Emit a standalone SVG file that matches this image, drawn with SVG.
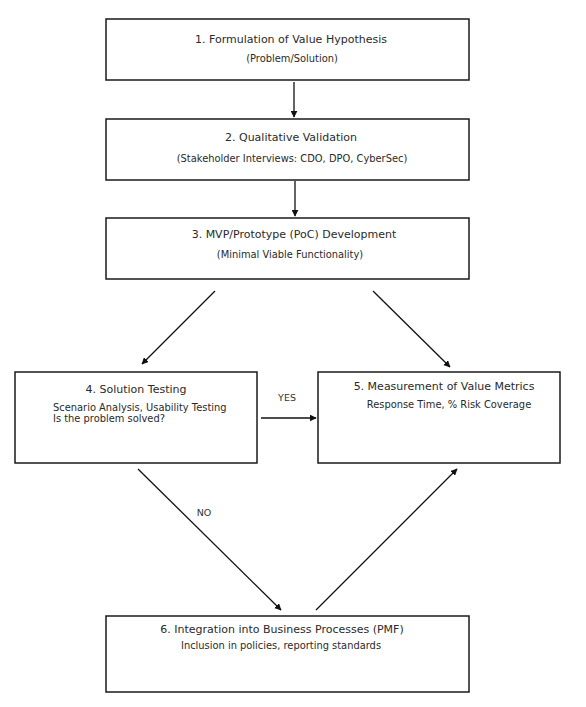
<svg xmlns="http://www.w3.org/2000/svg" width="586" height="707" viewBox="0 0 586 707">
<style>
.box{fill:#fff;stroke:#1a1a1a;stroke-width:1.5}
.t{font-family:"DejaVu Sans",sans-serif;font-size:11px;fill:#2a2a2a;text-anchor:middle}
.s{font-family:"DejaVu Sans",sans-serif;font-size:9.9px;fill:#2a2a2a;text-anchor:middle}
.sl{font-family:"DejaVu Sans",sans-serif;font-size:9.9px;fill:#2a2a2a}
.lbl{font-family:"DejaVu Sans",sans-serif;font-size:9.5px;fill:#333;text-anchor:middle}
.c{stroke:#111;stroke-width:1.3;fill:none;marker-end:url(#ah)}
</style>
<defs>
<marker id="ah" viewBox="0 0 10 10" refX="9" refY="5" markerWidth="7" markerHeight="7" markerUnits="userSpaceOnUse" orient="auto">
<path d="M0,0 L10,5 L0,10 Z" fill="#111"/>
</marker>
</defs>
<rect width="586" height="707" fill="#fff"/>
<g id="connectors">
<line class="c" x1="294" y1="82" x2="294" y2="117"/>
<line class="c" x1="295" y1="181" x2="295" y2="216"/>
<line class="c" x1="215" y1="291" x2="142" y2="364"/>
<line class="c" x1="373" y1="291" x2="450" y2="367"/>
<line class="c" x1="261" y1="418" x2="316" y2="418"/>
<text class="lbl" x="287" y="401">YES</text>
<line class="c" x1="138" y1="469" x2="281" y2="610"/>
<text class="lbl" x="204" y="516">NO</text>
<line class="c" x1="316" y1="610" x2="457" y2="469"/>
</g>
<g id="n1">
<rect class="box" x="106" y="19" width="363" height="61"/>
<text class="t" x="291" y="43">1. Formulation of Value Hypothesis</text>
<text class="s" x="292" y="62">(Problem/Solution)</text>
</g>
<g id="n2">
<rect class="box" x="106" y="119" width="363" height="61"/>
<text class="t" x="291" y="141">2. Qualitative Validation</text>
<text class="s" x="292" y="162">(Stakeholder Interviews: CDO, DPO, CyberSec)</text>
</g>
<g id="n3">
<rect class="box" x="106" y="218" width="363" height="61"/>
<text class="t" x="294" y="238">3. MVP/Prototype (PoC) Development</text>
<text class="s" x="290" y="258">(Minimal Viable Functionality)</text>
</g>
<g id="n4">
<rect class="box" x="15" y="372" width="242" height="91"/>
<text class="t" x="136" y="393">4. Solution Testing</text>
<text class="sl" x="53" y="411">Scenario Analysis, Usability Testing</text>
<text class="sl" x="53" y="421.5">Is the problem solved?</text>
</g>
<g id="n5">
<rect class="box" x="318" y="372" width="242" height="91"/>
<text class="t" x="444" y="390">5. Measurement of Value Metrics</text>
<text class="s" x="449" y="408">Response Time, % Risk Coverage</text>
</g>
<g id="n6">
<rect class="box" x="106" y="616" width="363" height="76"/>
<text class="t" x="282" y="633">6. Integration into Business Processes (PMF)</text>
<text class="s" x="281" y="649">Inclusion in policies, reporting standards</text>
</g>
</svg>
